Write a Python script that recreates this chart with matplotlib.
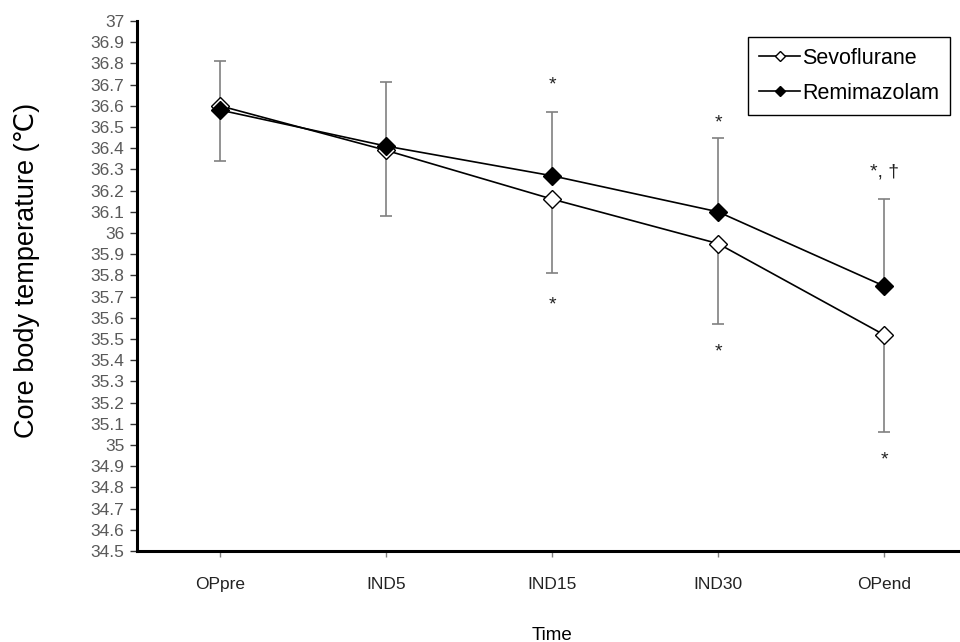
import matplotlib
matplotlib.use("Agg")
import matplotlib.pyplot as plt
import numpy as np

plt.rcParams['font.family'] = ['Liberation Sans', 'DejaVu Sans']

tiempos = ['OPpre', 'IND5', 'IND15', 'IND30', 'OPend']
sevo = [36.60, 36.39, 36.16, 35.95, 35.52]
sevo_sd = [0.26, 0.31, 0.35, 0.38, 0.46]
remi = [36.58, 36.41, 36.27, 36.10, 35.75]
remi_sd = [0.23, 0.30, 0.30, 0.35, 0.41]

# anotaciones de significancia (texto, posicion x, valor y)
marcas_sup = [('*', 2, 36.70), ('*', 3, 36.52), ('*, \u2020', 4, 36.29)]
marcas_inf = [('*', 2, 35.66), ('*', 3, 35.44), ('*', 4, 34.93)]

fig = plt.figure(figsize=(9.6, 6.42), dpi=100)
ax = fig.add_axes([137/960, 1 - 551/642, 830/960, 530/642])

x = np.arange(len(tiempos))

# barras de error: arriba para Remimazolam, abajo para Sevoflurane
ax.errorbar(x, remi, yerr=[np.zeros(len(x)), remi_sd], fmt='none',
            ecolor='#808080', elinewidth=1.2, capsize=4, capthick=1.2, zorder=1)
ax.errorbar(x, sevo, yerr=[sevo_sd, np.zeros(len(x))], fmt='none',
            ecolor='#808080', elinewidth=1.2, capsize=4, capthick=1.2, zorder=1)

ax.plot(x, sevo, color='black', linewidth=1.2, marker='D', markersize=9,
        markerfacecolor='white', markeredgecolor='black', markeredgewidth=1.0,
        label='Sevoflurane', zorder=3)
ax.plot(x, remi, color='black', linewidth=1.2, marker='D', markersize=9,
        markerfacecolor='black', markeredgecolor='black',
        label='Remimazolam', zorder=4)

for txt, xi, yi in marcas_sup + marcas_inf:
    ax.text(xi, yi, txt, ha='center', va='center', fontsize=14, color='#222222')

ax.set_xlim(-0.5, 4.5)
ax.set_ylim(34.5, 37.0)
yt = np.round(np.arange(34.5, 37.01, 0.1), 1)
ax.set_yticks(yt)
ax.set_yticklabels([f'{v:g}' for v in yt])
ax.set_xticks(x)
ax.set_xticklabels(tiempos)

ax.spines['top'].set_visible(False)
ax.spines['right'].set_visible(False)
ax.spines['left'].set_linewidth(2.2)
ax.spines['bottom'].set_linewidth(2.2)
ax.tick_params(axis='y', direction='out', length=5, width=1, colors='#333333',
               labelsize=12.5, labelcolor='#595959', pad=4)
ax.tick_params(axis='x', direction='out', length=4, width=1, colors='#808080',
               labelsize=12.5, labelcolor='#222222', pad=15)

ax.set_ylabel('Core body temperature (\u2103)', fontsize=19.5)
ax.yaxis.set_label_coords(-0.117, 0.53)
ax.set_xlabel('Time', fontsize=13.5)
ax.xaxis.set_label_coords(0.5, -0.143)

leg = ax.legend(loc='upper right', bbox_to_anchor=(950/960, 1 - 37/642),
                bbox_transform=fig.transFigure, fontsize=15.5, markerscale=0.6,
                handlelength=1.9, handletextpad=0.1, fancybox=False,
                edgecolor='black', framealpha=1, borderpad=0.5,
                labelspacing=0.65, borderaxespad=0)
leg.get_frame().set_linewidth(1.0)

fig.savefig('out.png', dpi=100)
